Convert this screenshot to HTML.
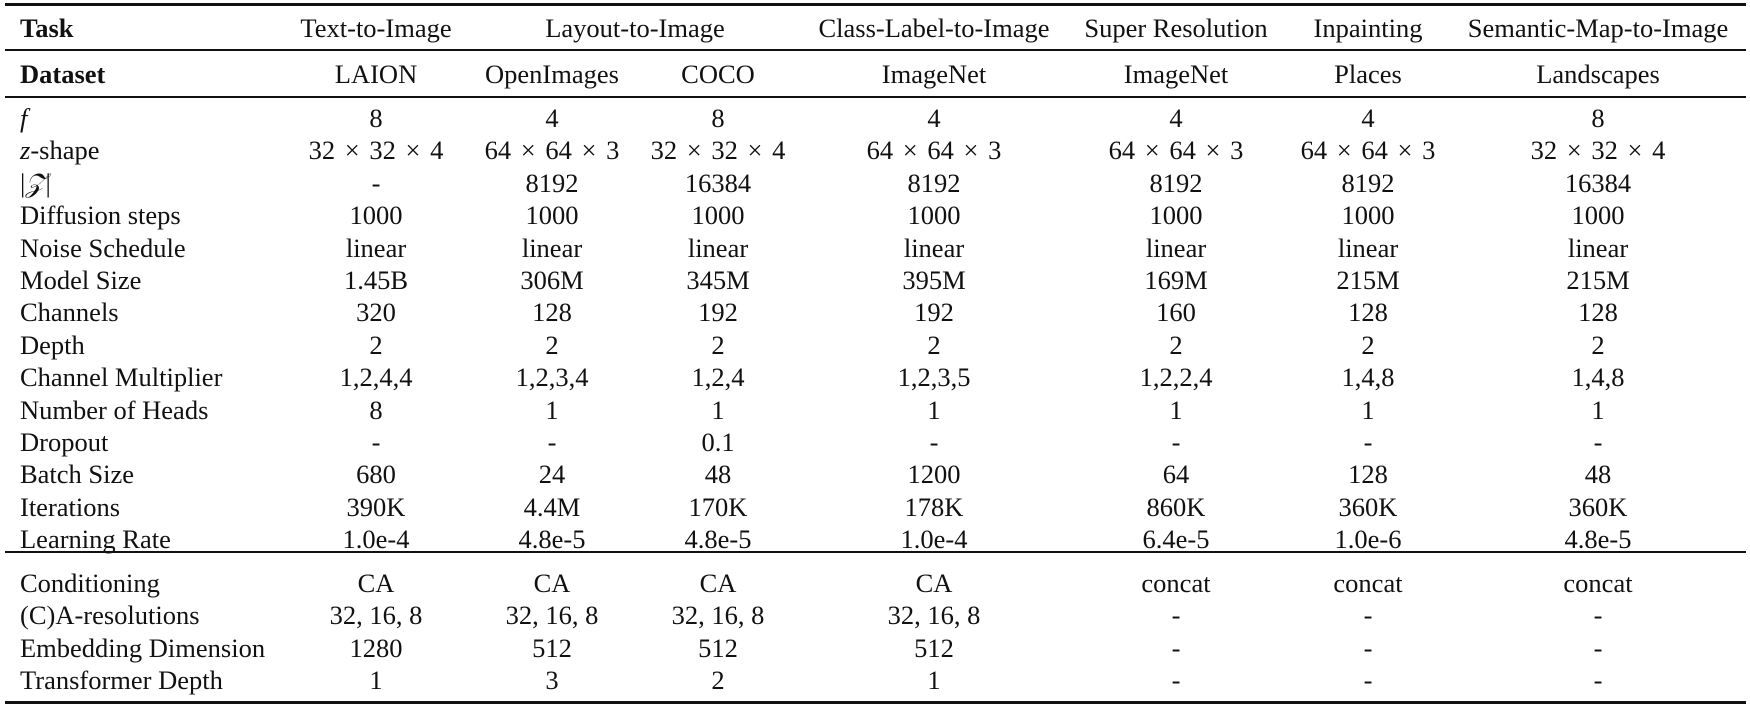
<!DOCTYPE html>
<html><head><meta charset="utf-8">
<style>
html,body{margin:0;padding:0;background:#fff;}
#t{position:relative;width:1750px;height:710px;overflow:hidden;font-family:"Liberation Serif",serif;font-size:26.5px;color:#111;}
.c{position:absolute;white-space:nowrap;transform:translate(-50%,-50%);line-height:1;}
.l{position:absolute;white-space:nowrap;transform:translateY(-50%);line-height:1;left:20px;}
.rule{position:absolute;left:5px;width:1741px;background:#111;}
.b{font-weight:bold;}
.x{margin:0 3px;}
i{font-style:italic;}
</style></head>
<body>
<div id="t">
<div class="rule" style="top:3px;height:3px"></div>
<div class="rule" style="top:49px;height:1.5px"></div>
<div class="rule" style="top:96px;height:1.5px"></div>
<div class="rule" style="top:551px;height:1.5px"></div>
<div class="rule" style="top:701px;height:3px"></div>
</div>
<script>
const colX=[376,552,718,934,1176,1368,1598];
const tasks=[["Text-to-Image",376],["Layout-to-Image",635],["Class-Label-to-Image",934],["Super Resolution",1176],["Inpainting",1368],["Semantic-Map-to-Image",1598]];
const datasets=["LAION","OpenImages","COCO","ImageNet","ImageNet","Places","Landscapes"];
const rowLabels=["<i>f</i>","<i>z</i>-shape","|<i>𝒵</i>|","Diffusion steps","Noise Schedule","Model Size","Channels","Depth","Channel Multiplier","Number of Heads","Dropout","Batch Size","Iterations","Learning Rate"];
const rows=[
["8","4","8","4","4","4","8"],
["32 × 32 × 4","64 × 64 × 3","32 × 32 × 4","64 × 64 × 3","64 × 64 × 3","64 × 64 × 3","32 × 32 × 4"],
["-","8192","16384","8192","8192","8192","16384"],
["1000","1000","1000","1000","1000","1000","1000"],
["linear","linear","linear","linear","linear","linear","linear"],
["1.45B","306M","345M","395M","169M","215M","215M"],
["320","128","192","192","160","128","128"],
["2","2","2","2","2","2","2"],
["1,2,4,4","1,2,3,4","1,2,4","1,2,3,5","1,2,2,4","1,4,8","1,4,8"],
["8","1","1","1","1","1","1"],
["-","-","0.1","-","-","-","-"],
["680","24","48","1200","64","128","48"],
["390K","4.4M","170K","178K","860K","360K","360K"],
["1.0e-4","4.8e-5","4.8e-5","1.0e-4","6.4e-5","1.0e-6","4.8e-5"]];
const condLabels=["Conditioning","(C)A-resolutions","Embedding Dimension","Transformer Depth"];
const condRows=[
["CA","CA","CA","CA","concat","concat","concat"],
["32, 16, 8","32, 16, 8","32, 16, 8","32, 16, 8","-","-","-"],
["1280","512","512","512","-","-","-"],
["1","3","2","1","-","-","-"]];
const T=document.getElementById('t');
function add(cls,html,x,y,name){
  const d=document.createElement('div');
  d.className=cls;
  d.innerHTML=html.replace(/ × /g,'<span class="x">&nbsp;×&nbsp;</span>');
  d.style.top=y+'px';
  if(x!==null)d.style.left=x+'px';
  
  
  T.appendChild(d);
}
add('l b','Task',null,28,'task-header');
tasks.forEach(t=>add('c',t[0],t[1],28,'task-name'));
add('l b','Dataset',null,74,'dataset-header');
datasets.forEach((d,i)=>add('c',d,colX[i],74,'dataset-name'));
const step=32.4;
rowLabels.forEach((lab,r)=>{
  const y=118+r*step;
  add('l',lab,null,y,'row-label');
  rows[r].forEach((v,i)=>add('c',v,colX[i],y,'cell-value'));
});
condLabels.forEach((lab,r)=>{
  const y=583+r*step;
  add('l',lab,null,y,'row-label');
  condRows[r].forEach((v,i)=>add('c',v,colX[i],y,'cell-value'));
});
</script>
</body></html>
